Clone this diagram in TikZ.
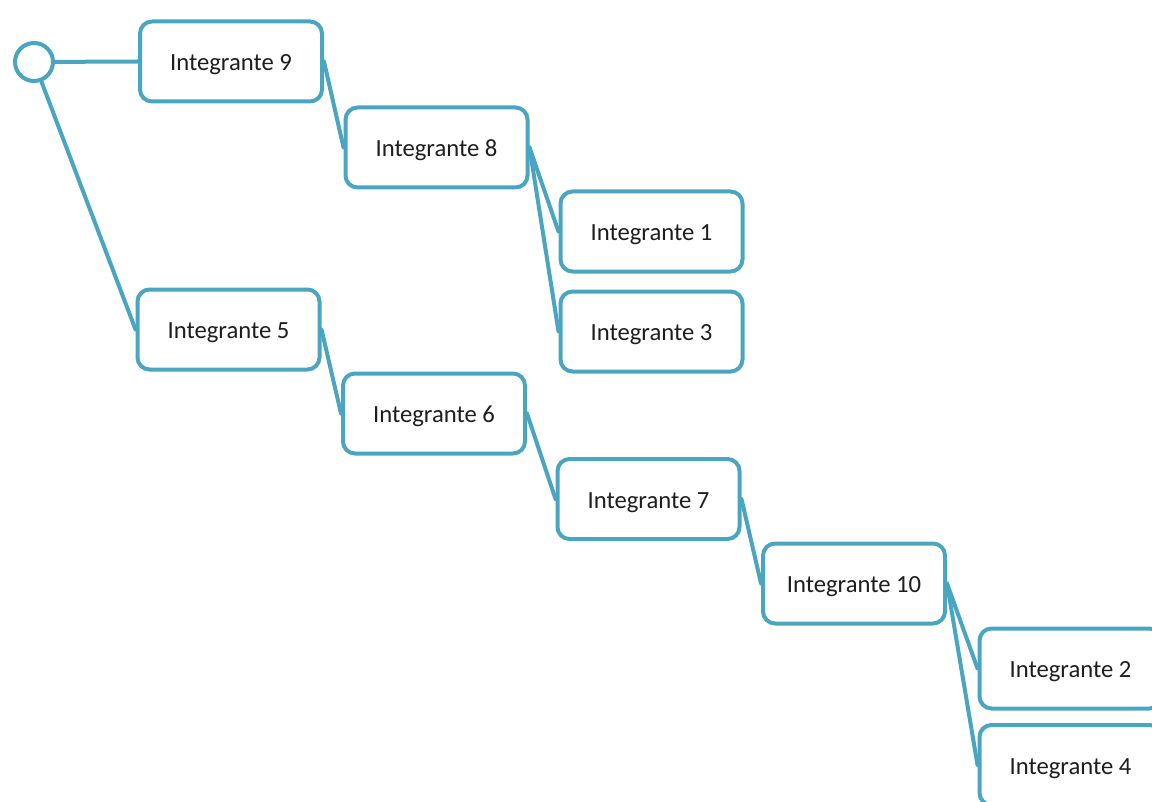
\documentclass[tikz,border=0pt]{standalone}
\usepackage{fontspec}
\setmainfont{Carlito}
\usetikzlibrary{backgrounds}
\definecolor{teal}{RGB}{74,166,192}
\definecolor{txt}{RGB}{30,30,30}
\begin{document}
\begin{tikzpicture}[x=0.75pt,y=-0.75pt,
  member/.style={draw=teal,line width=3pt,rounded corners=9pt,fill=white,
    minimum width=136.5pt,minimum height=60pt,inner sep=0pt,
    text height=16pt,text depth=2.5pt,
    font=\fontsize{18.5}{22}\selectfont,text=txt},
  rootnode/.style={circle,draw=teal,line width=3pt,minimum size=28.5pt,inner sep=0pt,fill=white},
  link/.style={draw=teal,line width=3pt,line cap=round}]
\useasboundingbox (0,0) rectangle (1152,802);
\clip (0,0) rectangle (1152,802);
\node[rootnode] (r) at (34,62) {};
\node[member] (n9) at (231,61.5) {Integrante 9};
\node[member] (n8) at (436.5,147.5) {Integrante 8};
\node[member] (n1) at (651.5,231.5) {Integrante 1};
\node[member] (n3) at (651.5,331.5) {Integrante 3};
\node[member] (n5) at (228.5,329.5) {Integrante 5};
\node[member] (n6) at (434,413.5) {Integrante 6};
\node[member] (n7) at (648.5,499) {Integrante 7};
\node[member] (n10) at (854,583.5) {Integrante 10};
\node[member] (n2) at (1070.5,668.5) {Integrante 2};
\node[member] (n4) at (1070.5,765) {Integrante 4};
\begin{scope}[on background layer]
\draw[link] (r) -- (n9.west);
\draw[link] (r) -- (n5.west);
\draw[link] (n9.east) -- (n8.west);
\draw[link] (n8.east) -- (n1.west);
\draw[link] (n8.east) -- (n3.west);
\draw[link] (n5.east) -- (n6.west);
\draw[link] (n6.east) -- (n7.west);
\draw[link] (n7.east) -- (n10.west);
\draw[link] (n10.east) -- (n2.west);
\draw[link] (n10.east) -- (n4.west);
\end{scope}
\end{tikzpicture}
\end{document}
